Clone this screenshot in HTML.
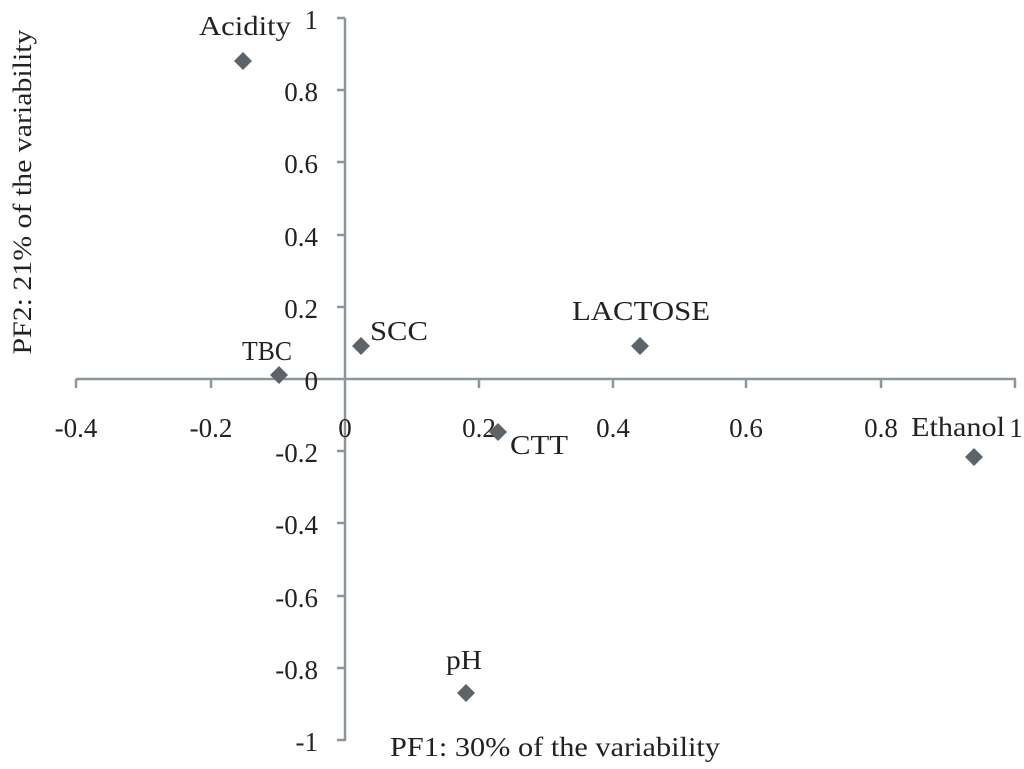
<!DOCTYPE html>
<html><head><style>body{margin:0;background:#fff}</style></head><body>
<svg width="1024" height="764" xmlns="http://www.w3.org/2000/svg" font-family="Liberation Serif, serif" font-size="27" fill="#222">
<g stroke="#8a969c" stroke-width="2.5" fill="none">
<line x1="76" y1="379" x2="1016" y2="379"/>
<line x1="345" y1="18" x2="345" y2="741"/>
<path d="M76 379v9M211 379v9M479 379v9M613 379v9M746 379v9M881 379v9M1015 379v9"/>
<path d="M337 18h8M337 90h8M337 162h8M337 235h8M337 307h8M337 451h8M337 523h8M337 596h8M337 668h8M337 740h8"/>
</g>
<g text-anchor="middle">
<text x="76" y="437">-0.4</text><text x="211" y="437">-0.2</text><text x="345" y="437">0</text>
<text x="479" y="437">0.2</text><text x="613" y="437">0.4</text><text x="746" y="437">0.6</text>
<text x="881" y="437">0.8</text><text x="1016" y="437">1</text>
</g>
<g text-anchor="end">
<text x="318" y="29">1</text><text x="318" y="101">0.8</text><text x="318" y="173">0.6</text>
<text x="318" y="246">0.4</text><text x="318" y="318">0.2</text><text x="318" y="390">0</text>
<text x="318" y="462">-0.2</text><text x="318" y="534">-0.4</text><text x="318" y="607">-0.6</text>
<text x="318" y="679">-0.8</text><text x="318" y="751">-1</text>
</g>
<g fill="#5d6469">
<path d="M243 52l9 9-9 9-9-9z"/><path d="M279 366l9 9-9 9-9-9z"/><path d="M361 337l9 9-9 9-9-9z"/>
<path d="M640 337l9 9-9 9-9-9z"/><path d="M498 423l9 9-9 9-9-9z"/><path d="M974 448l9 9-9 9-9-9z"/>
<path d="M466 684l9 9-9 9-9-9z"/>
</g>
<text x="199" y="35" textLength="92" lengthAdjust="spacingAndGlyphs">Acidity</text>
<text x="242" y="360" textLength="50" lengthAdjust="spacingAndGlyphs">TBC</text>
<text x="370" y="340" textLength="58" lengthAdjust="spacingAndGlyphs">SCC</text>
<text x="572" y="320" textLength="138" lengthAdjust="spacingAndGlyphs">LACTOSE</text>
<text x="510" y="454" textLength="58" lengthAdjust="spacingAndGlyphs">CTT</text>
<text x="911" y="436" textLength="94" lengthAdjust="spacingAndGlyphs">Ethanol</text>
<text x="446" y="669" textLength="36" lengthAdjust="spacingAndGlyphs">pH</text>
<text x="390" y="756" textLength="330" lengthAdjust="spacingAndGlyphs">PF1: 30% of the variability</text>
<text transform="translate(31,192) rotate(-90)" text-anchor="middle" font-size="26" textLength="325" lengthAdjust="spacingAndGlyphs">PF2: 21% of the variability</text>
</svg>
</body></html>
